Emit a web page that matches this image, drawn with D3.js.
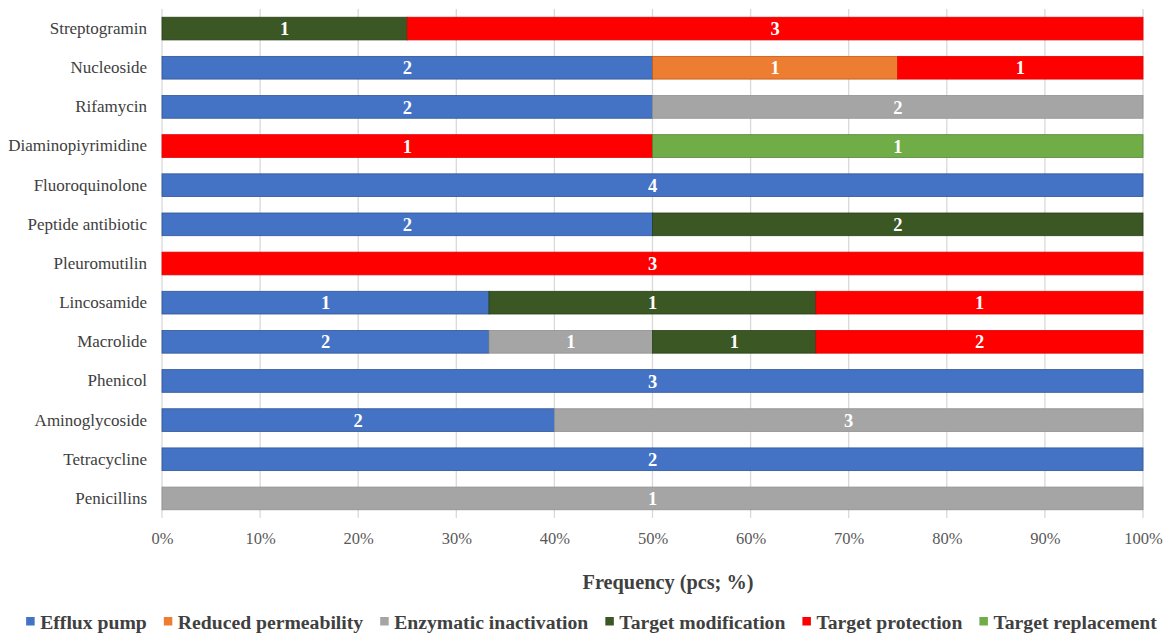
<!DOCTYPE html>
<html>
<head>
<meta charset="utf-8">
<script src="https://cdn.jsdelivr.net/npm/d3@7"></script>
<style>
  body { margin: 0; background: #fff; }
</style>
</head>
<body>
<svg id="chart"></svg>
<script>
// categories, top to bottom
const categories = ["Streptogramin", "Nucleoside", "Rifamycin", "Diaminopiyrimidine", "Fluoroquinolone",
  "Peptide antibiotic", "Pleuromutilin", "Lincosamide", "Macrolide", "Phenicol",
  "Aminoglycoside", "Tetracycline", "Penicillins"];

const mechanisms = ["Efflux pump", "Reduced permeability", "Enzymatic inactivation",
  "Target modification", "Target protection", "Target replacement"];

// counts per category, one array per mechanism (same order as categories)
const effluxPump          = [0, 2, 2, 0, 4, 2, 0, 1, 2, 3, 2, 2, 0];
const reducedPermeability = [0, 1, 0, 0, 0, 0, 0, 0, 0, 0, 0, 0, 0];
const enzymaticInact      = [0, 0, 2, 0, 0, 0, 0, 0, 1, 0, 3, 0, 1];
const targetModification  = [1, 0, 0, 0, 0, 2, 0, 1, 1, 0, 0, 0, 0];
const targetProtection    = [3, 1, 0, 1, 0, 0, 3, 1, 2, 0, 0, 0, 0];
const targetReplacement   = [0, 0, 0, 1, 0, 0, 0, 0, 0, 0, 0, 0, 0];

const xTicks = [0, 0.1, 0.2, 0.3, 0.4, 0.5, 0.6, 0.7, 0.8, 0.9, 1];

const colors = ["#4472C4", "#ED7D31", "#A5A5A5", "#3A5724", "#FF0000", "#70AD47"];
const strokes = ["#2F5597", "#C55A11", "#8F8F8F", "#2A4019", "#E00000", "#548235"];

const series = [effluxPump, reducedPermeability, enzymaticInact, targetModification, targetProtection, targetReplacement];

const FONT = "'Liberation Serif', 'Times New Roman', serif";
const W = 1170, H = 641;
const margin = { top: 9, right: 27, bottom: 123, left: 162 };
const width = W - margin.left - margin.right;
const height = H - margin.top - margin.bottom;

const svg = d3.select("#chart").attr("width", W).attr("height", H).style("font-family", FONT);
const g = svg.append("g").attr("transform", `translate(${margin.left},${margin.top})`);

// build rows for the stack
const rows = categories.map((c, i) => {
  const r = { category: c };
  mechanisms.forEach((m, j) => { r[m] = series[j][i]; });
  return r;
});

const stack = d3.stack().keys(mechanisms).offset(d3.stackOffsetExpand);
const stacked = stack(rows);

const x = d3.scaleLinear().domain([0, 1]).range([0, width]);
const y = d3.scaleBand().domain(categories).range([0, height]).paddingInner(0.42).paddingOuter(0.21);

// grid lines
g.append("g")
  .selectAll("line")
  .data(xTicks)
  .join("line")
  .attr("x1", d => x(d)).attr("x2", d => x(d))
  .attr("y1", 0).attr("y2", height)
  .attr("stroke", "#D9D9D9")
  .attr("stroke-width", 1.3);

// bars
const layer = g.append("g")
  .selectAll("g")
  .data(stacked)
  .join("g")
  .attr("fill", (d, i) => colors[i])
  .attr("stroke", (d, i) => strokes[i]);

layer.selectAll("rect")
  .data(d => d.filter(s => s[1] - s[0] > 0))
  .join("rect")
  .attr("x", d => x(d[0]))
  .attr("y", d => y(d.data.category))
  .attr("width", d => x(d[1]) - x(d[0]))
  .attr("height", y.bandwidth())
  .attr("stroke-width", 0.8);

// data labels
stacked.forEach((s, i) => {
  g.append("g")
    .selectAll("text")
    .data(s.filter(d => d[1] - d[0] > 0))
    .join("text")
    .attr("x", d => x((d[0] + d[1]) / 2))
    .attr("y", d => y(d.data.category) + y.bandwidth() / 2)
    .attr("dy", "0.36em")
    .attr("text-anchor", "middle")
    .attr("fill", "#fff")
    .style("font-family", FONT)
    .style("font-weight", "bold")
    .style("font-size", "18.5px")
    .text(d => d.data[mechanisms[i]]);
});

// x axis labels
const xAxis = d3.axisBottom(x).tickValues(xTicks).tickFormat(d3.format(".0%")).tickSize(0).tickPadding(14);
const xg = g.append("g").attr("transform", `translate(0,${height})`).call(xAxis);
xg.select(".domain").remove();
xg.selectAll("text")
  .style("font-family", FONT)
  .style("font-size", "16.5px")
  .attr("fill", "#595959");

// y axis labels
const yAxis = d3.axisLeft(y).tickSize(0).tickPadding(15);
const yg = g.append("g").call(yAxis);
yg.select(".domain").remove();
yg.selectAll("text")
  .style("font-family", FONT)
  .style("font-size", "17px")
  .attr("fill", "#404040");

// axis title
svg.append("text")
  .attr("x", 668)
  .attr("y", 589)
  .attr("text-anchor", "middle")
  .style("font-family", FONT)
  .style("font-weight", "bold")
  .style("font-size", "20.3px")
  .attr("fill", "#404040")
  .text("Frequency (pcs; %)");

// legend
const legend = svg.append("g");
let lx = 0;
mechanisms.forEach((m, i) => {
  const item = legend.append("g").attr("transform", `translate(${lx},0)`);
  item.append("rect").attr("x", 0).attr("y", -12).attr("width", 8.5).attr("height", 8.5).attr("fill", colors[i]);
  const t = item.append("text")
    .attr("x", 14)
    .attr("y", 0)
    .style("font-family", FONT)
    .style("font-weight", "bold")
    .style("font-size", "19.7px")
    .attr("fill", "#404040")
    .text(m);
  lx += 14 + t.node().getComputedTextLength() + 17;
});
const legendWidth = lx - 17;
legend.attr("transform", `translate(${(26 + 1157) / 2 - legendWidth / 2},629)`);
</script>
</body>
</html>
